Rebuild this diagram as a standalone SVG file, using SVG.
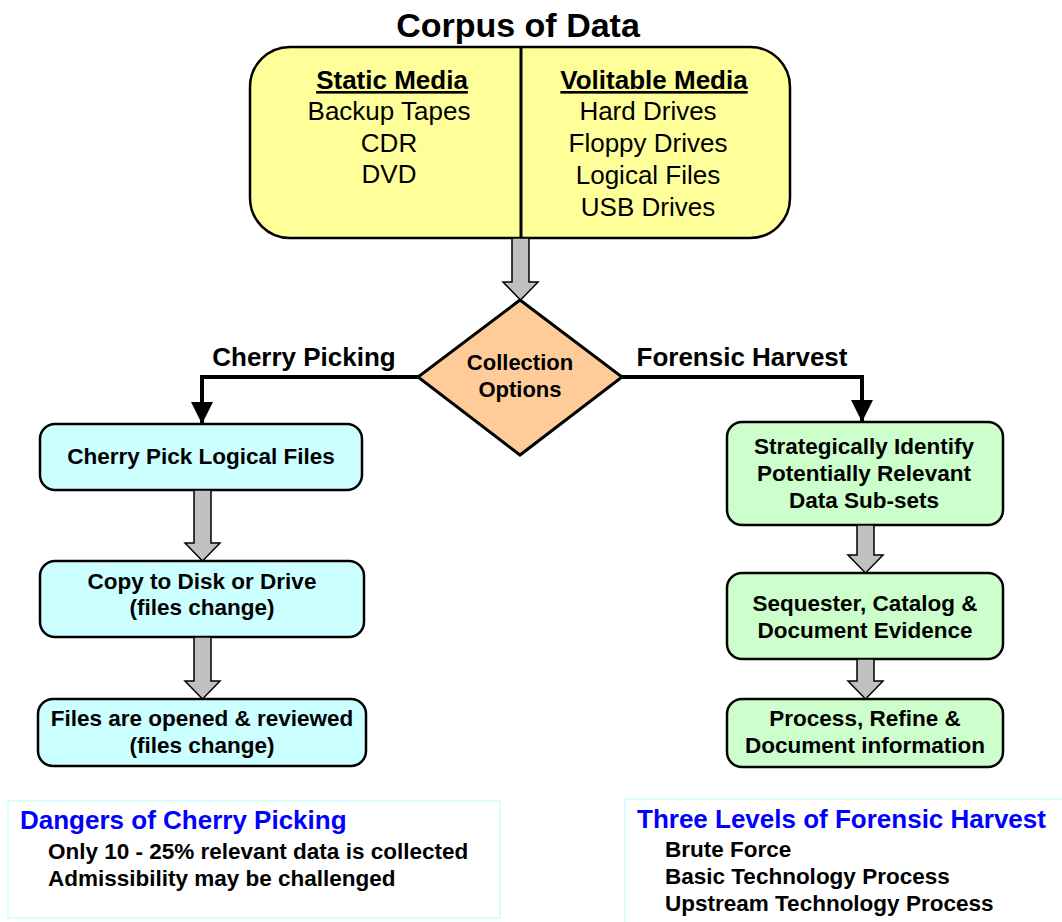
<svg xmlns="http://www.w3.org/2000/svg" width="1062" height="922" viewBox="0 0 1062 922">
<style>
text{font-family:"Liberation Sans",Arial,sans-serif;fill:#000}
.t{font-size:34px;font-weight:bold;text-anchor:middle}
.m{font-size:26px;text-anchor:middle}
.mh{font-size:26px;text-anchor:middle;font-weight:bold;text-decoration:underline}
.b{font-size:22.5px;font-weight:bold;text-anchor:middle}
.lbl{font-size:26px;font-weight:bold;text-anchor:middle}
.h{font-size:26px;font-weight:bold;fill:#0000FF}
.i{font-size:22.5px;font-weight:bold}
.cy{fill:#CCFFFF;stroke:#000;stroke-width:2.5}
.gr{fill:#CCFFCC;stroke:#000;stroke-width:2.5}
.ga{fill:#C0C0C0;stroke:#000;stroke-width:1.5}
.ln{fill:none;stroke:#000;stroke-width:4}
.note{fill:#fff;stroke:#CCFFFF;stroke-width:1.5}
</style>
<defs>
<marker id="ah" viewBox="0 0 10 10" refX="10" refY="5" markerWidth="5.5" markerHeight="6" markerUnits="strokeWidth" orient="auto"><path d="M0,0 L10,5 L0,10 Z" fill="#000"/></marker>
</defs>
<rect width="1062" height="922" fill="#fff"/>
<text class="t" x="518" y="37">Corpus of Data</text>

<g id="corpus">
<rect x="250" y="47" width="540" height="191" rx="40" ry="40" fill="#FFFF99" stroke="#000" stroke-width="2.5"/>
<line x1="521" y1="47" x2="521" y2="238" stroke="#000" stroke-width="3"/>
<text class="mh" x="392" y="89">Static Media </text>
<text class="m" x="389" y="120">Backup Tapes</text>
<text class="m" x="389" y="152">CDR</text>
<text class="m" x="389" y="183">DVD</text>
<text class="mh" x="654" y="89">Volitable Media </text>
<text class="m" x="648" y="120">Hard Drives</text>
<text class="m" x="648" y="152">Floppy Drives</text>
<text class="m" x="648" y="184">Logical Files</text>
<text class="m" x="648" y="216">USB Drives</text>
</g>

<g id="options">
<polygon points="520,300 622,377 520,455 418,377" fill="#FFCC99" stroke="#000" stroke-width="3"/>
<text class="b" x="520" y="370" style="font-size:22px">Collection</text>
<text class="b" x="520" y="397" style="font-size:22px">Options</text>
</g>

<g id="cp1"><rect class="cy" x="40" y="424" width="322" height="66" rx="15"/><text class="b" x="201" y="464">Cherry Pick Logical Files</text></g>
<g id="cp2"><rect class="cy" x="40" y="561" width="324" height="76" rx="15"/><text class="b" x="202" y="589">Copy to Disk or Drive</text><text class="b" x="202" y="615">(files change)</text></g>
<g id="cp3"><rect class="cy" x="38" y="699" width="328" height="67" rx="15"/><text class="b" x="202" y="726">Files are opened &amp; reviewed</text><text class="b" x="202" y="753">(files change)</text></g>

<g id="fh1"><rect class="gr" x="727" y="422" width="276" height="103" rx="15"/><text class="b" x="864" y="454">Strategically Identify</text><text class="b" x="864" y="481">Potentially Relevant</text><text class="b" x="864" y="508">Data Sub-sets</text></g>
<g id="fh2"><rect class="gr" x="727" y="573" width="276" height="86" rx="15"/><text class="b" x="865" y="611">Sequester, Catalog &amp;</text><text class="b" x="865" y="638">Document Evidence</text></g>
<g id="fh3"><rect class="gr" x="727" y="699" width="276" height="68" rx="15"/><text class="b" x="865" y="726">Process, Refine &amp;</text><text class="b" x="865" y="753">Document information</text></g>

<g id="connectors">
<path class="ga" d="M512,238 L529,238 L529,282 L538,282 L520.5,300 L503,282 L512,282 Z"/>
<path class="ga" d="M194,490 L211,490 L211,543 L220,543 L202.5,561 L185,543 L194,543 Z"/>
<path class="ga" d="M194,637 L211,637 L211,681 L220,681 L202.5,699 L185,681 L194,681 Z"/>
<path class="ga" d="M857,525 L874,525 L874,555 L883,555 L865.5,573 L848,555 L857,555 Z"/>
<path class="ga" d="M857,659 L874,659 L874,681 L883,681 L865.5,699 L848,681 L857,681 Z"/>
<path class="ln" d="M418,377 L202,377 L202,424" marker-end="url(#ah)"/>
<path class="ln" d="M622,377 L862,377 L862,422" marker-end="url(#ah)"/>
<text class="lbl" x="304" y="366">Cherry Picking</text>
<text class="lbl" x="742" y="366">Forensic Harvest</text>
</g>

<g id="dangers">
<rect class="note" x="8" y="801" width="492" height="117"/>
<text class="h" x="20" y="829">Dangers of Cherry Picking</text>
<text class="i" x="48" y="859">Only 10 - 25% relevant data is collected</text>
<text class="i" x="48" y="886">Admissibility may be challenged</text>
</g>

<g id="levels">
<rect class="note" x="625" y="799" width="445" height="130"/>
<text class="h" x="637" y="828">Three Levels of Forensic Harvest</text>
<text class="i" x="665" y="857">Brute Force</text>
<text class="i" x="665" y="884">Basic Technology Process</text>
<text class="i" x="665" y="911">Upstream Technology Process</text>
</g>
</svg>
